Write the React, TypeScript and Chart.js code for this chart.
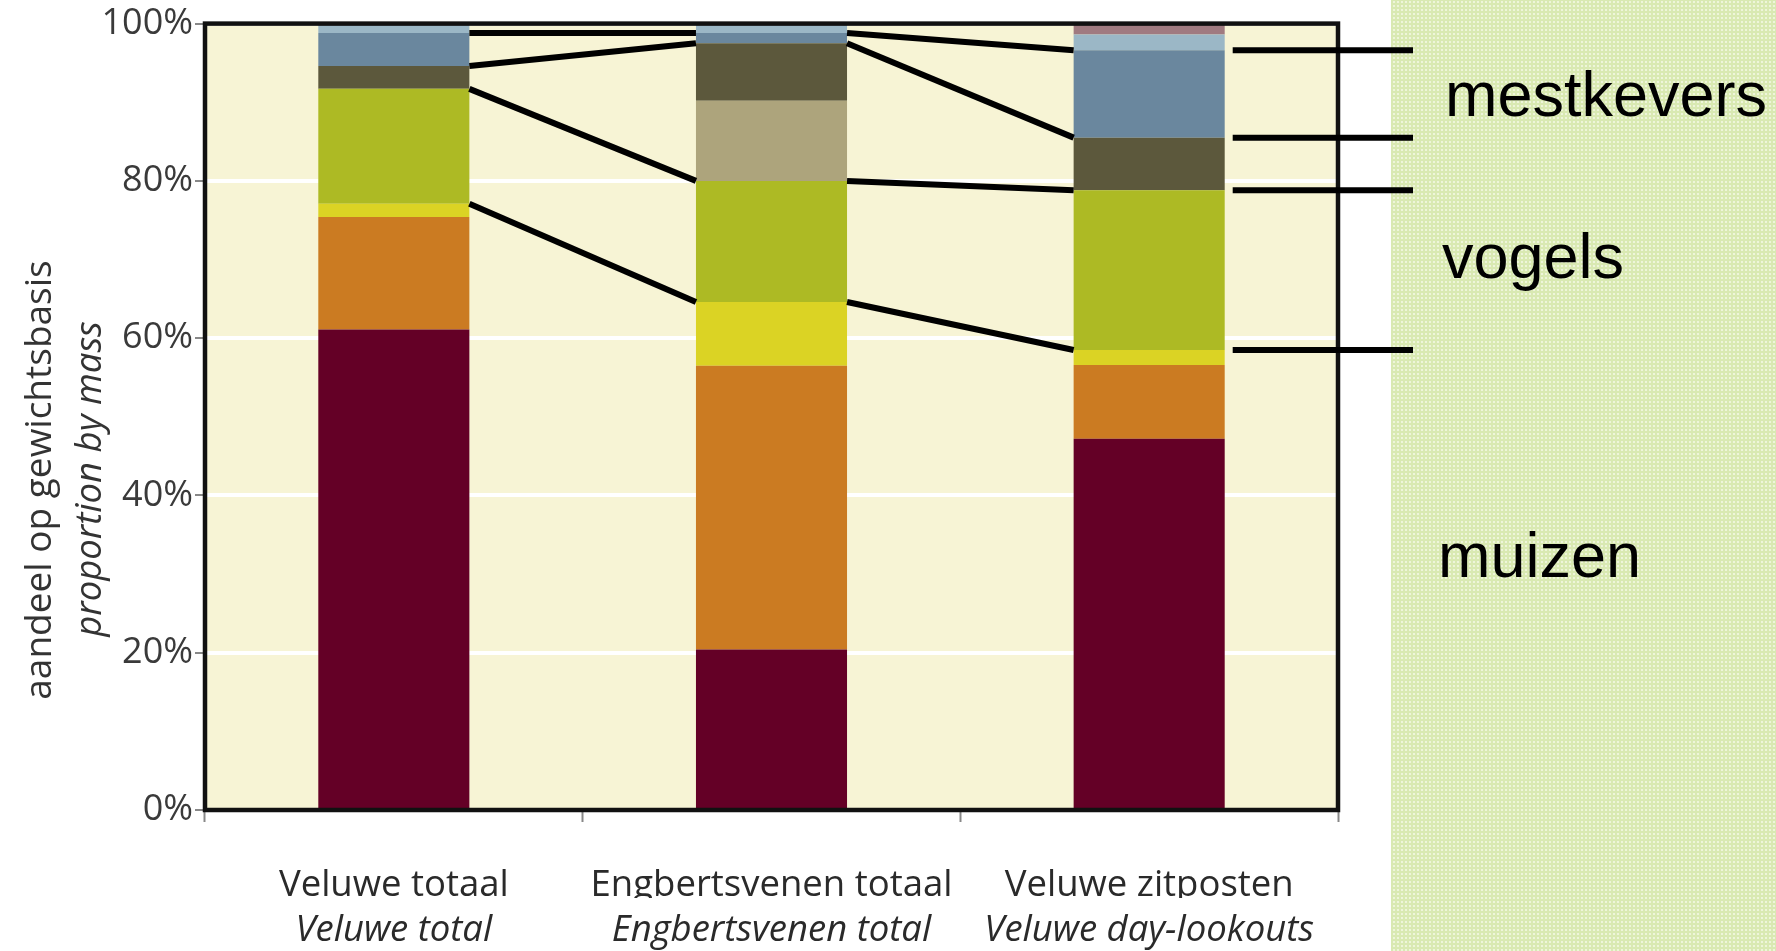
import React, { useEffect, useRef } from "react";
import { Chart, registerables } from "chart.js";

Chart.register(...registerables);

// ---------- data ----------
const categories = ["Veluwe totaal", "Engbertsvenen totaal", "Veluwe zitposten"];
const categoriesEn = ["Veluwe total", "Engbertsvenen total", "Veluwe day-lookouts"];
const yTickLabels = ["0%", "20%", "40%", "60%", "80%", "100%"];

const seriesNames = [
  "muizen",
  "overige zoogdieren",
  "reptielen",
  "vogels",
  "amfibieën",
  "overige kevers",
  "mestkevers",
  "overige insecten",
  "overig",
];
const muizen = [61.1, 20.4, 47.2];
const overigeZoogdieren = [14.3, 36.1, 9.4];
const reptielen = [1.7, 8.1, 1.9];
const vogels = [14.6, 15.4, 20.3];
const amfibieen = [0, 10.2, 0];
const overigeKevers = [2.9, 7.3, 6.7];
const mestkevers = [4.2, 1.3, 11.1];
const overigeInsecten = [1.2, 1.2, 2.0];
const overig = [0, 0, 1.4];

const seriesValues = [
  muizen,
  overigeZoogdieren,
  reptielen,
  vogels,
  amfibieen,
  overigeKevers,
  mestkevers,
  overigeInsecten,
  overig,
];
const seriesColors = [
  "#640026",
  "#CB7B22",
  "#DBD324",
  "#ADBA24",
  "#ADA47C",
  "#5C583C",
  "#6A879E",
  "#9BB7C6",
  "#A07A80",
];

// series whose top edges are linked by the black connector lines
const linkedSeries = [6, 5, 3, 2];
const rightLabels = ["mestkevers", "vogels", "muizen"];

function makePanelPattern(ctx: CanvasRenderingContext2D) {
  const c = document.createElement("canvas");
  c.width = 4;
  c.height = 4;
  const p = c.getContext("2d")!;
  p.fillStyle = "#D9E9B2";
  p.fillRect(0, 0, 4, 4);
  p.fillStyle = "#F3F8E4";
  p.beginPath();
  p.arc(2, 2, 1.1, 0, Math.PI * 2);
  p.fill();
  return ctx.createPattern(c, "repeat");
}

const decorPlugin = {
  id: "decor",
  beforeDraw(chart: any) {
    const { ctx, chartArea: a } = chart;
    ctx.save();
    const pat = makePanelPattern(ctx);
    ctx.fillStyle = pat || "#E2EEC6";
    ctx.fillRect(1391, 0, chart.width - 1391, chart.height);
    ctx.fillStyle = "#F7F4D5";
    ctx.fillRect(a.left, a.top, a.right - a.left, a.bottom - a.top);
    ctx.restore();
  },
  afterDatasetsDraw(chart: any) {
    const { ctx, chartArea: a } = chart;
    ctx.save();
    // frame
    ctx.strokeStyle = "#111";
    ctx.lineWidth = 4.5;
    ctx.strokeRect(a.left, a.top, a.right - a.left, a.bottom - a.top);

    // connectors
    ctx.strokeStyle = "#000";
    ctx.lineWidth = 6;
    ctx.lineCap = "butt";
    const n = categories.length;
    for (const si of linkedSeries) {
      const meta = chart.getDatasetMeta(si);
      for (let j = 0; j < n - 1; j++) {
        const e1 = meta.data[j];
        const e2 = meta.data[j + 1];
        ctx.beginPath();
        ctx.moveTo(e1.x + e1.width / 2, e1.y);
        ctx.lineTo(e2.x - e2.width / 2, e2.y);
        ctx.stroke();
      }
      const last = meta.data[n - 1];
      ctx.beginPath();
      ctx.moveTo(last.x + last.width / 2 + 8, last.y);
      ctx.lineTo(1413, last.y);
      ctx.stroke();
    }
    ctx.restore();
  },
  afterDraw(chart: any) {
    const { ctx } = chart;
    ctx.save();
    // y-axis titles
    ctx.fillStyle = "#333";
    ctx.textAlign = "center";
    ctx.textBaseline = "middle";
    ctx.translate(40, 480);
    ctx.rotate(-Math.PI / 2);
    ctx.font = '37px "Open Sans"';
    ctx.fillText("aandeel op gewichtsbasis", 0, 0);
    ctx.restore();
    ctx.save();
    ctx.fillStyle = "#333";
    ctx.textAlign = "center";
    ctx.textBaseline = "middle";
    ctx.translate(91, 479);
    ctx.rotate(-Math.PI / 2);
    ctx.font = 'italic 36.5px "Open Sans"';
    ctx.fillText("proportion by mass", 0, 0);
    ctx.restore();

    // right-hand labels
    ctx.save();
    ctx.fillStyle = "#000";
    ctx.textAlign = "left";
    ctx.textBaseline = "alphabetic";
    ctx.font = '63px "Liberation Sans"';
    ctx.fillText(rightLabels[0], 1445, 116);
    ctx.fillText(rightLabels[1], 1442, 278);
    ctx.fillText(rightLabels[2], 1438, 577);
    ctx.restore();
  },
};

export default function App() {
  const ref = useRef<HTMLCanvasElement | null>(null);

  useEffect(() => {
    if (!ref.current) return;
    const chart = new Chart(ref.current, {
      type: "bar",
      data: {
        labels: categories,
        datasets: seriesValues.map((vals, i) => ({
          label: seriesNames[i],
          data: vals,
          backgroundColor: seriesColors[i],
          borderWidth: 0,
          barPercentage: 0.8,
          categoryPercentage: 0.5,
        })),
      },
      options: {
        animation: false,
        responsive: false,
        maintainAspectRatio: false,
        layout: { padding: { left: 0, right: 438, top: 20, bottom: 0 } },
        plugins: {
          legend: { display: false },
          tooltip: { enabled: false },
        },
        scales: {
          x: {
            stacked: true,
            offset: true,
            weight: 0,
            grid: {
              display: true,
              drawOnChartArea: false,
              offset: true,
              tickLength: 12,
              tickColor: "#888",
              tickWidth: 2,
            },
            border: { display: false },
            ticks: {
              font: { family: "Open Sans", size: 36.5 },
              color: "#2a2a2a",
              padding: 42,
              maxRotation: 0,
              autoSkip: false,
            },
            afterFit: (s: any) => {
              s.height = 88;
            },
          },
          x2: {
            type: "category",
            labels: categoriesEn,
            position: "bottom",
            offset: true,
            weight: 1,
            grid: { display: false },
            border: { display: false },
            ticks: {
              font: { family: "Open Sans", size: 36.5, style: "italic" },
              color: "#2a2a2a",
              padding: 3,
              maxRotation: 0,
              autoSkip: false,
            },
            afterFit: (s: any) => {
              s.height = 53;
            },
          },
          y: {
            stacked: true,
            min: 0,
            max: 100,
            ticks: {
              stepSize: 20,
              callback: (_v: any, i: number) => yTickLabels[i],
              font: { family: "Open Sans", size: 36 },
              color: "#3a3a3a",
              padding: 2,
            },
            grid: {
              color: "#FFFFFF",
              lineWidth: 4,
              tickLength: 10,
              tickColor: "#888",
              tickWidth: 2,
            },
            border: { display: false },
            afterFit: (s: any) => {
              s.width = 205;
            },
          },
        },
      },
      plugins: [decorPlugin],
    } as any);
    return () => chart.destroy();
  }, []);

  return (
    <div
      style={{
        position: "fixed",
        left: 0,
        top: 0,
        width: 1776,
        height: 951,
        background: "#fff",
      }}
    >
      <canvas ref={ref} width={1776} height={951} style={{ display: "block" }} />
    </div>
  );
}
